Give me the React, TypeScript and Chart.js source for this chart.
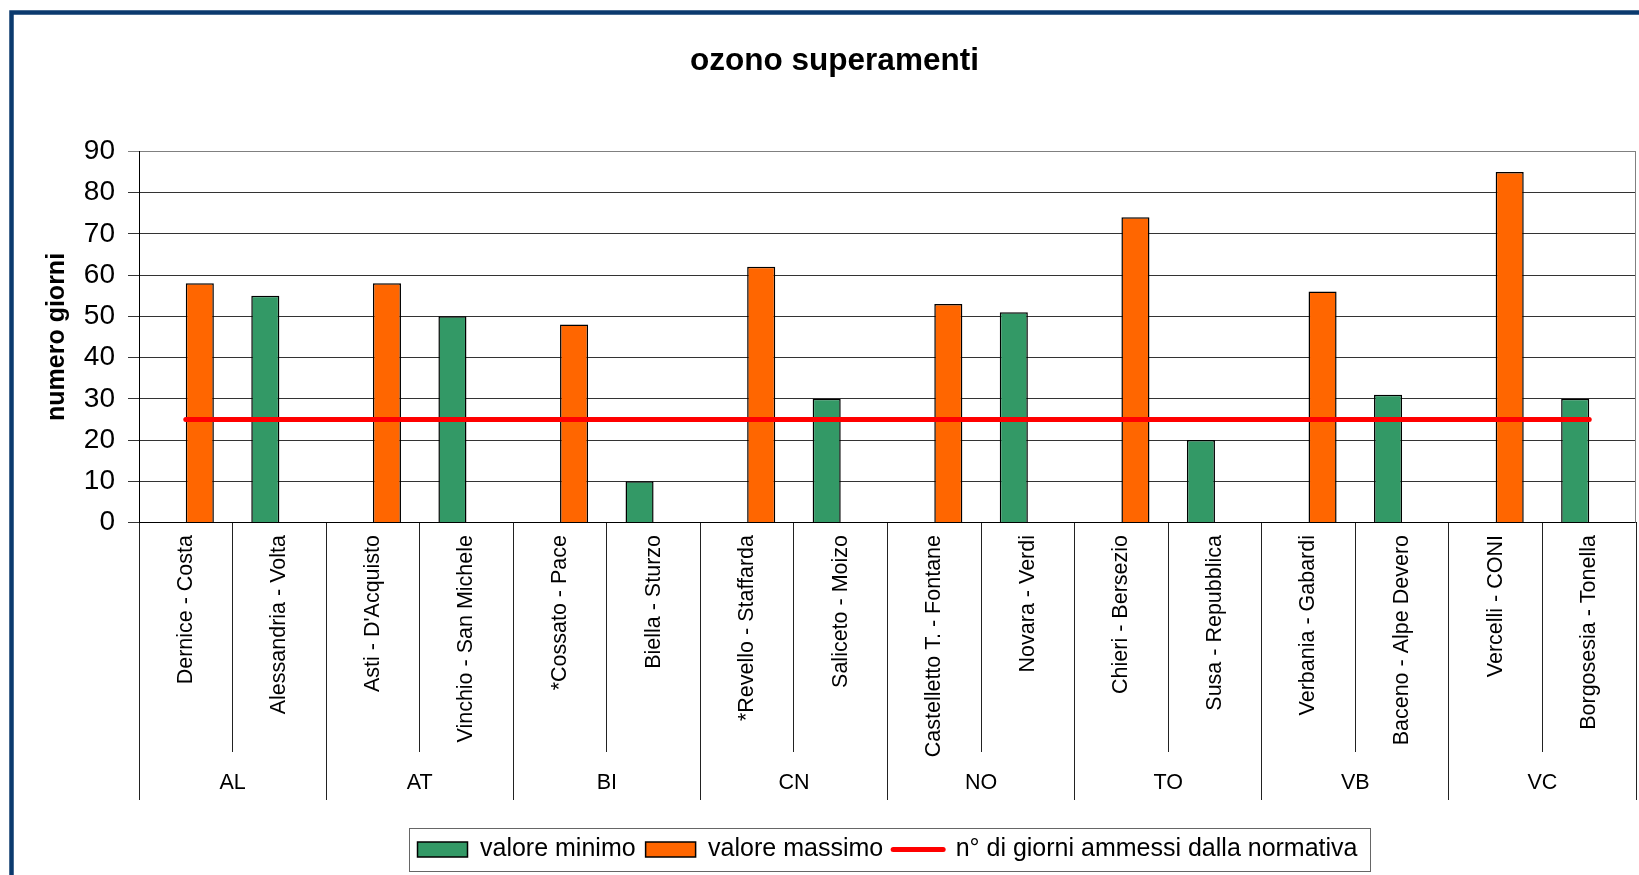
import React, { useEffect, useRef } from 'react';
import { Chart, registerables } from 'chart.js';

Chart.register(...registerables);

const FONT = '"Liberation Sans", Arial, sans-serif';

const stations = [
  'Dernice - Costa',
  'Alessandria - Volta',
  "Asti - D'Acquisto",
  'Vinchio - San Michele',
  '*Cossato - Pace',
  'Biella - Sturzo',
  '*Revello - Staffarda',
  'Saliceto - Moizo',
  'Castelletto T. - Fontane',
  'Novara - Verdi',
  'Chieri - Bersezio',
  'Susa - Repubblica',
  'Verbania - Gabardi',
  'Baceno - Alpe Devero',
  'Vercelli - CONI',
  'Borgosesia - Tonella',
];

const provinces = ['AL', 'AT', 'BI', 'CN', 'NO', 'TO', 'VB', 'VC'];

const valoreMinimo = [null, 55, null, 50, null, 10, null, 30, null, 51, null, 20, null, 31, null, 30];
const valoreMassimo = [58, null, 58, null, 48, null, 62, null, 53, null, 74, null, 56, null, 85, null];
const giorniAmmessi = [25, 25, 25, 25, 25, 25, 25, 25, 25, 25, 25, 25, 25, 25, 25, 25];

const yMin = 0;
const yMax = 90;
const yStep = 10;

const decorPlugin = {
  id: 'decor',
  afterLayout(chart: any) {
    const t = chart.titleBlock;
    if (t) {
      t.left = 0;
      t.right = 1669;
    }
  },
  afterDraw(chart: any) {
    const ctx = chart.ctx;
    const a = chart.chartArea;
    ctx.save();
    // plot area right border
    ctx.strokeStyle = '#808080';
    ctx.lineWidth = 1;
    ctx.beginPath();
    const rx = Math.round(a.right) - 0.5;
    ctx.moveTo(rx, a.top);
    ctx.lineTo(rx, a.bottom);
    ctx.stroke();

    // legend frame
    const lg = chart.legend;
    if (lg && lg.legendHitBoxes && lg.legendHitBoxes.length) {
      const hb = lg.legendHitBoxes;
      const first = hb[0];
      const last = hb[hb.length - 1];
      const left = first.left - 9;
      const right = last.left + last.width + 12;
      const cy = first.top + first.height / 2;
      ctx.strokeStyle = '#666666';
      ctx.lineWidth = 1;
      ctx.strokeRect(Math.round(left) + 0.5, Math.round(cy - 21.5) + 0.5, Math.round(right - left), 43);
    }

    // outer chart frame
    ctx.strokeStyle = '#0b3a6e';
    ctx.lineWidth = 4.5;
    ctx.beginPath();
    ctx.moveTo(11.5, 900);
    ctx.lineTo(11.5, 12.5);
    ctx.lineTo(1700, 12.5);
    ctx.stroke();
    ctx.restore();
  },
};

export default function App() {
  const ref = useRef<HTMLCanvasElement>(null);

  useEffect(() => {
    if (!ref.current) return;
    const chart = new Chart(ref.current, {
      type: 'bar',
      data: {
        labels: stations,
        datasets: [
          {
            label: 'valore minimo',
            data: valoreMinimo as any,
            backgroundColor: '#339966',
            borderColor: '#000000',
            borderWidth: 1.5,
            order: 1,
            xAxisID: 'x',
          },
          {
            label: 'valore massimo',
            data: valoreMassimo as any,
            backgroundColor: '#FF6600',
            borderColor: '#000000',
            borderWidth: 1.5,
            order: 1,
            xAxisID: 'x',
          },
          {
            type: 'line',
            label: 'n° di giorni ammessi dalla normativa',
            data: giorniAmmessi,
            borderColor: '#FF0000',
            backgroundColor: '#FF0000',
            borderWidth: 5,
            borderCapStyle: 'round',
            pointRadius: 0,
            pointHoverRadius: 0,
            fill: false,
            tension: 0,
            order: -1,
            xAxisID: 'x',
          } as any,
        ],
      },
      options: {
        responsive: false,
        devicePixelRatio: 1,
        animation: false,
        layout: { padding: { top: 0, left: 0, right: 3, bottom: 3 } },
        datasets: {
          bar: { categoryPercentage: 0.6, barPercentage: 1.0 },
        },
        plugins: {
          title: {
            display: true,
            text: 'ozono superamenti',
            color: '#000',
            font: { family: FONT, size: 31.5, weight: 'bold' },
            padding: { top: 42, bottom: 71.5 },
          },
          legend: {
            display: true,
            position: 'bottom',
            fullSize: false,
            labels: {
              color: '#000',
              font: { family: FONT, size: 25 },
              usePointStyle: true,
              pointStyleWidth: 50,
              boxHeight: 15,
              padding: 10,
              sort: (a: any, b: any) => a.datasetIndex - b.datasetIndex,
              generateLabels: (c: any) => {
                const items = Chart.defaults.plugins.legend.labels.generateLabels(c);
                return items.map((it: any) => ({
                  ...it,
                  pointStyle: it.datasetIndex === 2 ? 'line' : 'rect',
                  lineCap: it.datasetIndex === 2 ? 'round' : 'butt',
                }));
              },
            },
          },
          tooltip: { enabled: false },
        },
        scales: {
          x2: {
            type: 'category',
            position: 'bottom',
            weight: -1,
            labels: provinces,
            offset: true,
            grid: {
              offset: true,
              drawOnChartArea: false,
              drawTicks: true,
              tickLength: 277.4,
              color: '#222',
              lineWidth: 1,
            },
            border: { display: false },
            ticks: {
              autoSkip: false,
              minRotation: 0,
              maxRotation: 0,
              mirror: true,
              padding: -273,
              color: '#000',
              font: { family: FONT, size: 21.5 },
            },
            afterFit: (s: any) => {
              s.height = 0;
            },
          },
          x: {
            type: 'category',
            position: 'bottom',
            weight: 0,
            offset: true,
            grid: {
              offset: true,
              drawOnChartArea: false,
              drawTicks: true,
              tickLength: 229.4,
              color: '#222',
              lineWidth: 1,
            },
            border: { display: true, color: '#000', width: 1 },
            ticks: {
              autoSkip: false,
              minRotation: 90,
              maxRotation: 90,
              padding: -217,
              color: '#000',
              font: { family: FONT, size: 21.5 },
            },
            afterFit: (s: any) => {
              s.height = 304.4;
            },
          },
          y: {
            min: yMin,
            max: yMax,
            ticks: {
              stepSize: yStep,
              padding: 13,
              color: '#000',
              font: { family: FONT, size: 28 },
            },
            grid: {
              color: (ctx: any) => (ctx.tick && ctx.tick.value === yMax ? '#808080' : '#333333'),
              lineWidth: 1,
              drawTicks: true,
              tickLength: 11,
            },
            border: { display: true, color: '#000', width: 1 },
            title: {
              display: true,
              text: 'numero giorni',
              color: '#000',
              font: { family: FONT, size: 25, weight: 'bold' },
              padding: { top: 42.2, bottom: 0 },
            },
            afterFit: (s: any) => {
              s.width = 139;
            },
          },
        },
      } as any,
      plugins: [decorPlugin],
    });
    return () => chart.destroy();
  }, []);

  return (
    <div style={{ position: 'fixed', left: 0, top: 0, width: 1639, height: 875, background: '#ffffff' }}>
      <canvas ref={ref} width={1639} height={875} style={{ display: 'block', width: 1639, height: 875 }} />
    </div>
  );
}
